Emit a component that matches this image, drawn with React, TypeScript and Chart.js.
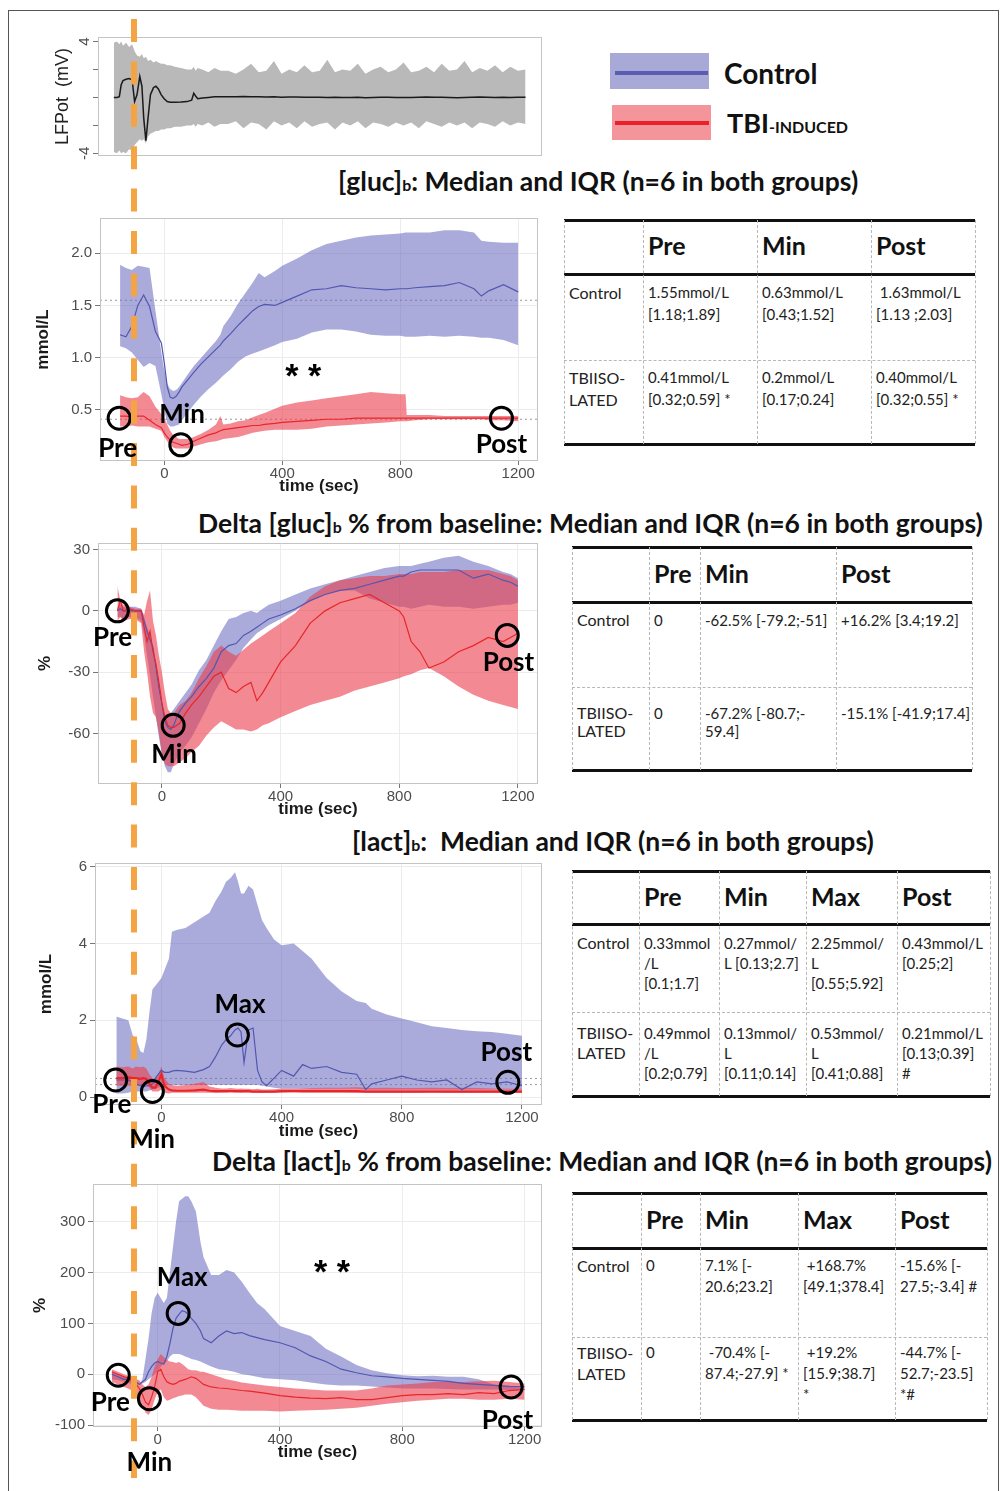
import React, { useEffect, useRef } from 'react';
import { Chart, registerables } from 'chart.js';

Chart.register(...registerables);

// ================= DATA =================
const X_TICKS = [0, 400, 800, 1200];

// ---- LFPot (mV) ----
const LF_T = [-150,-140,-132,-126,-120,-110,-100,-90,-82,-74,-65,-58,-52,-45,-38,-30,-20,-12,-4,5,15,25,35,50,70,90,105,112,118,125,140,160,180,200,
  225,250,275,300,325,350,375,400,425,450,475,500,525,550,575,600,625,650,675,700,725,750,775,800,825,850,875,900,925,950,975,1000,1025,1050,1075,1100,1125,1150,1175,1200];
const LF_MED = [0,0,0.05,0.9,1.2,1.3,1.35,1.25,-0.3,0.2,1.5,0.8,-1.5,-3.1,-1.5,0.2,0.7,0.8,0.6,0.2,-0.1,-0.3,-0.35,-0.35,-0.33,-0.3,-0.2,0.3,0.1,-0.1,-0.05,0,0.05,0.05,
  0.05,0.05,0.06,0.04,0.05,0.03,0.04,0.02,0.03,0.03,0.02,0.01,0.02,0,0.01,0,0,0.01,-0.02,0,0.01,0.02,0,-0.01,0,0.02,0.03,0.02,0.01,0,-0.02,0,0.02,0.03,0.01,0,0.02,0,0.01,0.02];
const LF_HI = [3.9,4.0,3.8,4.0,3.7,3.9,3.6,3.8,3.3,3.0,2.9,3.1,2.8,2.9,2.6,2.7,2.5,2.6,2.5,2.4,2.4,2.3,2.3,2.2,2.1,2.0,2.0,2.2,1.9,2.1,2.0,1.8,2.1,1.9,
  1.9,1.7,2.0,2.4,1.8,1.9,2.6,1.7,2.0,1.8,2.3,1.8,1.9,2.7,1.8,2.0,1.9,2.4,1.7,2.0,2.2,1.8,2.0,2.5,1.8,1.9,2.2,1.8,2.4,1.9,2.0,2.6,1.8,2.1,1.9,2.3,1.8,2.2,1.9,2.0];
const LF_LO = [-3.9,-4.0,-3.8,-4.0,-3.9,-4.0,-3.7,-3.8,-3.4,-3.2,-3.0,-3.1,-3.0,-3.3,-2.8,-2.6,-2.5,-2.4,-2.4,-2.3,-2.3,-2.2,-2.2,-2.1,-2.1,-2.0,-2.0,-1.9,-2.1,-1.9,-2.0,-1.8,-2.1,-1.9,
  -1.9,-1.7,-2.2,-1.8,-1.9,-2.3,-1.7,-2.0,-1.8,-2.2,-1.7,-2.1,-1.9,-1.8,-2.3,-1.8,-2.0,-1.7,-2.2,-1.8,-1.9,-2.1,-1.8,-2.0,-1.8,-2.2,-1.7,-1.9,-2.1,-1.8,-2.0,-1.8,-2.2,-1.8,-1.9,-2.1,-1.7,-2.0,-1.8,-1.9];
const LF_Y_TICKS = [-4, -2, 0, 2, 4];
const LF_Y_LABELS = [-4, 4];

// ---- [gluc]b (mmol/L) ----
const G_T = [-150,-130,-110,-90,-70,-50,-30,-10,0,10,20,30,40,50,60,80,100,125,150,175,190,200,225,250,275,300,320,340,375,400,450,500,550,600,650,700,750,800,818,822,850,900,950,1000,1050,1075,1100,1150,1200];
const GC_HI = [1.89,1.86,1.84,1.88,1.87,1.86,1.45,1.05,0.88,0.75,0.70,0.68,0.69,0.72,0.76,0.84,0.92,1.00,1.08,1.16,1.22,1.30,1.40,1.52,1.62,1.72,1.81,1.77,1.83,1.88,1.95,2.03,2.09,2.12,2.15,2.17,2.18,2.19,2.20,2.20,2.20,2.20,2.22,2.22,2.20,2.12,2.11,2.10,2.10];
const GC_LO = [1.11,1.09,1.05,0.98,0.91,0.95,0.92,0.65,0.50,0.37,0.34,0.34,0.35,0.36,0.40,0.48,0.55,0.63,0.70,0.76,0.80,0.83,0.89,0.96,1.01,1.04,1.06,1.08,1.12,1.15,1.18,1.24,1.27,1.27,1.25,1.22,1.21,1.21,1.20,1.20,1.20,1.21,1.20,1.21,1.20,1.19,1.19,1.17,1.12];
const GC_MED = [1.22,1.20,1.30,1.50,1.60,1.49,1.25,1.14,0.95,0.72,0.62,0.61,0.63,0.67,0.72,0.79,0.86,0.94,1.01,1.08,1.12,1.16,1.23,1.31,1.38,1.45,1.49,1.51,1.50,1.53,1.59,1.65,1.66,1.69,1.67,1.66,1.65,1.66,1.66,1.66,1.67,1.68,1.69,1.72,1.66,1.59,1.64,1.70,1.63];
const GT_HI = [0.64,0.62,0.61,0.62,0.67,0.63,0.53,0.46,0.42,0.36,0.30,0.26,0.24,0.22,0.22,0.22,0.24,0.27,0.31,0.36,0.44,0.36,0.37,0.39,0.40,0.43,0.45,0.47,0.51,0.54,0.57,0.59,0.61,0.63,0.65,0.67,0.66,0.65,0.65,0.45,0.45,0.45,0.44,0.44,0.44,0.44,0.44,0.44,0.44];
const GT_LO = [0.34,0.34,0.35,0.34,0.34,0.34,0.32,0.30,0.24,0.20,0.16,0.14,0.13,0.13,0.13,0.13,0.15,0.17,0.19,0.20,0.21,0.22,0.23,0.24,0.26,0.28,0.29,0.30,0.31,0.31,0.31,0.32,0.34,0.35,0.36,0.37,0.38,0.39,0.39,0.39,0.40,0.41,0.41,0.41,0.41,0.41,0.40,0.40,0.39];
const GT_MED = [0.44,0.44,0.43,0.44,0.44,0.40,0.36,0.33,0.28,0.24,0.21,0.19,0.18,0.17,0.16,0.17,0.20,0.23,0.26,0.28,0.30,0.31,0.32,0.33,0.34,0.35,0.35,0.36,0.37,0.38,0.39,0.40,0.41,0.41,0.42,0.42,0.42,0.42,0.42,0.42,0.42,0.42,0.42,0.42,0.42,0.42,0.42,0.42,0.42];
const G_Y_TICKS = [0.5, 1.0, 1.5, 2.0];
const G_REF = [1.55, 0.41];
const G_MARK_T = [-153, 56, 1143];
const G_MARK_V = [0.42, 0.165, 0.42];
const G_LAB = ['Pre', 'Min', 'Post', '* *'];
const G_LAB_T = [-158, 60, 1143, 471];
const G_LAB_V = [0.126, 0.452, 0.165, 0.864];

// ---- Delta [gluc]b % ----
const DG_T = [-150,-140,-130,-110,-90,-70,-60,-50,-40,-30,-20,-10,0,10,20,30,40,50,60,80,100,125,150,175,200,225,250,275,300,320,340,360,400,450,500,550,600,650,700,750,800,815,840,870,900,950,1000,1050,1100,1150,1175,1200];
const DGC_HI = [2,3,2,2,2,1,-3,-8,-12,-20,-30,-40,-48,-52,-52,-50,-48,-46,-44,-40,-36,-29,-24,-17,-10,-4,-3,-1,0,-1,1,3,5,8,11,13,15,17,19,21,22,22,22,23,24,26,27,24,22,19,18,16];
const DGC_LO = [-3,-3,-4,-3,-3,-5,-12,-22,-32,-42,-52,-62,-70,-76,-79,-79,-75,-72,-69,-66,-62,-55,-48,-40,-34,-29,-24,-18,-14,-11,-9,-7,-4,0,5,8,10,10,6,4,2,2,1,2,3,2,2,1,2,3,3,4];
const DGC_MED = [0,1,0,0,0,0,-5,-10,-14,-18,-28,-38,-46,-54,-57,-58,-56,-52,-49,-45,-42,-37,-33,-28,-20,-17,-16,-12,-10,-8,-6,-4,-2,1,5,8,10,11,13,15,17,17,19,20,20,20,20,16,18,15,14,12];
const DGT_HI = [12,5,3,2,1,1,-2,5,10,-5,-12,-22,-30,-40,-48,-50,-50,-48,-46,-44,-40,-33,-27,-20,-17,-20,-22,-19,-16,-14,-12,-10,-6,-1,7,12,15,16,17,17,18,18,18,19,19,19,20,20,20,18,17,15];
const DGT_LO = [-5,-3,-5,-4,-4,-6,-20,-30,-42,-50,-52,-60,-70,-75,-76,-76,-76,-75,-74,-72,-69,-66,-61,-57,-54,-56,-58,-58,-59,-58,-56,-55,-52,-49,-46,-44,-42,-39,-37,-35,-33,-32,-31,-29,-28,-32,-37,-41,-44,-46,-47,-48];
const DGT_MED = [0,5,0,1,0,0,-8,-15,-10,-20,-26,-35,-45,-52,-56,-57,-57,-56,-55,-50,-46,-42,-37,-32,-30,-38,-40,-37,-35,-44,-40,-35,-25,-17,-6,0,4,6,8,4,0,-3,-15,-20,-28,-25,-20,-17,-13,-15,-13,-11];
const DG_Y_TICKS = [-60, -30, 0, 30];
const DG_MARK_T = [-150, 38, 1164];
const DG_MARK_V = [0, -56, -12];
const DG_LAB = ['Pre', 'Min', 'Post'];
const DG_LAB_T = [-166, 41, 1168];
const DG_LAB_V = [-13.2, -70.5, -25.4];

// ---- [lact]b (mmol/L) ----
const L_T = [-150,-130,-110,-95,-85,-70,-60,-50,-40,-30,-20,-10,0,10,25,35,50,80,110,140,160,180,200,215,230,245,255,265,275,290,305,320,335,350,375,400,440,470,500,550,600,650,680,700,750,800,850,900,950,1000,1050,1100,1150,1200];
const LC_HI = [2.1,2.05,2.0,1.6,1.55,1.2,1.15,1.5,2.2,2.8,2.9,3.0,3.1,3.3,3.6,4.3,4.35,4.4,4.55,4.7,4.8,5.1,5.35,5.6,5.7,5.85,5.6,5.3,5.3,5.5,5.4,5.0,4.6,4.4,4.1,3.95,4.0,3.8,3.6,3.1,2.75,2.5,2.45,2.3,2.15,2.05,1.95,1.85,1.8,1.75,1.72,1.7,1.65,1.6];
const LC_LO = [0.1,0.1,0.12,0.15,0.15,0.15,0.15,0.15,0.18,0.2,0.22,0.25,0.28,0.3,0.32,0.32,0.32,0.32,0.32,0.32,0.32,0.32,0.32,0.32,0.32,0.32,0.32,0.32,0.32,0.32,0.32,0.32,0.3,0.28,0.25,0.22,0.22,0.22,0.22,0.22,0.22,0.22,0.2,0.2,0.2,0.2,0.2,0.2,0.2,0.2,0.2,0.2,0.2,0.2];
const LC_MED = [0.45,0.45,0.45,0.40,0.35,0.30,0.28,0.30,0.30,0.35,0.50,0.60,0.70,0.65,0.65,0.68,0.70,0.68,0.65,0.72,0.80,1.05,1.35,1.50,1.60,1.75,1.80,1.70,0.90,1.75,1.80,0.70,0.40,0.30,0.50,0.70,0.55,0.85,0.75,0.80,0.65,0.60,0.20,0.35,0.45,0.55,0.45,0.40,0.45,0.20,0.40,0.35,0.40,0.30];
const LT_HI = [0.8,0.78,0.8,0.75,0.8,0.78,0.8,0.75,0.6,0.5,0.45,0.6,0.8,0.5,0.35,0.32,0.30,0.32,0.35,0.40,0.28,0.25,0.23,0.23,0.24,0.23,0.22,0.23,0.22,0.22,0.21,0.22,0.2,0.2,0.21,0.22,0.22,0.23,0.24,0.25,0.25,0.26,0.25,0.24,0.25,0.24,0.24,0.25,0.24,0.25,0.24,0.23,0.22,0.22];
const LT_LO = [0.3,0.3,0.3,0.3,0.3,0.3,0.3,0.3,0.25,0.15,0.15,0.15,0.2,0.12,0.1,0.12,0.12,0.12,0.12,0.12,0.12,0.11,0.12,0.12,0.13,0.12,0.12,0.11,0.12,0.12,0.12,0.12,0.11,0.12,0.12,0.12,0.13,0.12,0.12,0.12,0.12,0.11,0.12,0.12,0.12,0.12,0.12,0.13,0.12,0.12,0.12,0.12,0.12,0.12];
const LT_MED = [0.5,0.5,0.52,0.5,0.5,0.48,0.5,0.48,0.35,0.25,0.25,0.4,0.6,0.3,0.2,0.18,0.17,0.17,0.18,0.2,0.17,0.16,0.16,0.16,0.16,0.16,0.16,0.16,0.16,0.16,0.15,0.15,0.15,0.15,0.15,0.16,0.16,0.16,0.16,0.16,0.16,0.16,0.15,0.15,0.15,0.15,0.15,0.15,0.15,0.15,0.15,0.15,0.15,0.15];
const L_Y_TICKS = [0, 2, 4, 6];
const L_REF = [0.49, 0.33];
const L_MARK_T = [-152, -30, 253, 1153];
const L_MARK_V = [0.45, 0.15, 1.62, 0.39];
const L_LAB = ['Pre', 'Min', 'Max', 'Post'];
const L_LAB_T = [-165, -31, 262, 1148];
const L_LAB_V = [-0.2, -1.11, 2.4, 1.15];

// ---- Delta [lact]b % ----
const DL_T = [-150,-130,-110,-90,-70,-60,-50,-40,-30,-20,-10,0,10,20,30,40,50,60,70,80,90,100,110,125,140,150,175,200,225,250,275,300,325,350,400,450,500,550,600,650,700,750,800,850,900,950,1000,1050,1100,1150,1200];
const DLC_HI = [5,0,-5,-5,-15,-20,-10,30,70,120,150,160,150,140,150,200,250,300,340,345,350,350,340,320,260,230,195,195,205,200,182,160,140,128,95,85,75,50,35,18,8,2,-2,-4,-3,-5,-5,-10,-20,-24,-28];
const DLC_LO = [-10,-12,-15,-18,-20,-20,-18,-15,-10,-5,0,5,15,20,25,35,40,40,40,38,35,33,30,28,25,22,15,10,8,5,0,-2,-5,-8,-10,-12,-16,-20,-22,-22,-24,-26,-28,-28,-28,-29,-30,-30,-30,-31,-32];
const DLC_MED = [0,-5,-10,-10,-15,-20,-15,-10,5,15,22,25,22,20,35,60,90,110,118,125,123,118,110,100,85,70,62,75,85,80,82,76,72,68,62,52,36,25,10,3,-3,-5,-8,-10,-12,-14,-18,-20,-22,-24,-25];
const DLT_HI = [10,5,0,-5,-10,-12,-20,-25,-20,-5,15,30,40,34,28,25,24,22,24,20,15,10,8,8,5,5,0,-5,-10,-13,-16,-18,-20,-22,-25,-28,-30,-32,-32,-32,-28,-22,-20,-18,-15,-15,-15,-14,-13,-15,-18];
const DLT_LO = [-15,-20,-25,-30,-40,-50,-60,-75,-80,-70,-50,-35,-30,-45,-52,-50,-47,-45,-43,-42,-40,-40,-40,-45,-55,-62,-68,-70,-70,-71,-72,-72,-72,-72,-73,-72,-71,-70,-68,-66,-62,-58,-55,-52,-50,-48,-48,-50,-50,-48,-50];
const DLT_MED = [5,0,-5,-10,-20,-28,-40,-55,-60,-45,-25,5,10,-5,-15,-18,-20,-18,-14,-12,-10,-8,-5,-8,-15,-20,-25,-27,-28,-30,-32,-33,-35,-37,-42,-45,-47,-48,-46,-50,-50,-46,-42,-40,-40,-38,-40,-36,-38,-32,-30];
const DL_Y_TICKS = [-100, 0, 100, 200, 300];
const DL_MARK_T = [-129, -27, 67, 1156];
const DL_MARK_V = [-2, -48, 119.5, -25];
const DL_LAB = ['Pre', 'Min', 'Max', 'Post', '* *'];
const DL_LAB_T = [-155, -27, 80, 1144, 570];
const DL_LAB_V = [-55, -173, 189, -90.5, 208.7];

// ---- Tables ----
const T1_HEAD = ['Pre', 'Min', 'Post'];
const T1_ROWS = [
  [['Control'], ['1.55mmol/L', '[1.18;1.89]'], ['0.63mmol/L', '[0.43;1.52]'], [' 1.63mmol/L', '[1.13 ;2.03]']],
  [['TBIISO-', 'LATED'], ['0.41mmol/L', '[0.32;0.59] *'], ['0.2mmol/L', '[0.17;0.24]'], ['0.40mmol/L', '[0.32;0.55] *']],
];
const T2_HEAD = ['Pre', 'Min', 'Post'];
const T2_ROWS = [
  [['Control'], ['0'], ['-62.5% [-79.2;-51]'], ['+16.2% [3.4;19.2]']],
  [['TBIISO-', 'LATED'], ['0'], ['-67.2% [-80.7;-', '59.4]'], ['-15.1% [-41.9;17.4]']],
];
const T3_HEAD = ['Pre', 'Min', 'Max', 'Post'];
const T3_ROWS = [
  [['Control'], ['0.33mmol', '/L', '[0.1;1.7]'], ['0.27mmol/', 'L [0.13;2.7]'], ['2.25mmol/', 'L', '[0.55;5.92]'], ['0.43mmol/L', '[0.25;2]']],
  [['TBIISO-', 'LATED'], ['0.49mmol', '/L', '[0.2;0.79]'], ['0.13mmol/', 'L', '[0.11;0.14]'], ['0.53mmol/', 'L', '[0.41;0.88]'], ['0.21mmol/L', '[0.13;0.39]', '#']],
];
const T4_HEAD = ['Pre', 'Min', 'Max', 'Post'];
const T4_ROWS = [
  [['Control'], ['0'], ['7.1% [-', '20.6;23.2]'], [' +168.7%', '[49.1;378.4]'], ['-15.6% [-', '27.5;-3.4] #']],
  [['TBIISO-', 'LATED'], ['0'], [' -70.4% [-', '87.4;-27.9] *'], [' +19.2%', '[15.9;38.7]', '*'], ['-44.7% [-', '52.7;-23.5]', '*#']],
];

// ================= STYLE =================
const AX_FONT = "'Liberation Sans', Arial, sans-serif";
const CAL = "Lato, 'Open Sans', sans-serif";
const BLUE_BAND = 'rgba(100,102,190,0.55)';
const RED_BAND = 'rgba(235,60,75,0.6)';
const BLUE_LINE = '#5357b0';
const RED_LINE = '#e8262a';
const NONE = 'rgba(0,0,0,0)';

const pts = (t: number[], v: number[]) => t.map((x, i) => ({ x, y: v[i] }));

// Draws the panel frame on the chart and the text annotations on an overlay canvas
function annotPlugin(p: any, overlay: HTMLCanvasElement | null) {
  return {
    id: 'annot',
    afterDatasetsDraw(chart: any) {
      const { ctx, chartArea: a, scales } = chart;
      ctx.save();
      ctx.strokeStyle = '#c4c4c4';
      ctx.lineWidth = 1;
      ctx.strokeRect(a.left + 0.5, a.top + 0.5, a.right - a.left - 1, a.bottom - a.top - 1);
      if (p.rotTicks) {
        ctx.font = `15px ${AX_FONT}`;
        ctx.fillStyle = '#4d4d4d';
        ctx.textAlign = 'center';
        ctx.textBaseline = 'middle';
        p.rotTicks.forEach((v: number) => {
          ctx.save();
          ctx.translate(a.left - 13, scales.y.getPixelForValue(v));
          ctx.rotate(-Math.PI / 2);
          ctx.fillText(String(v), 0, 0);
          ctx.restore();
        });
      }
      ctx.restore();
      if (overlay && p.labText) {
        const o = overlay.getContext('2d') as CanvasRenderingContext2D;
        o.clearRect(0, 0, overlay.width, overlay.height);
        o.fillStyle = '#000';
        o.textAlign = 'center';
        o.textBaseline = 'middle';
        p.labText.forEach((txt: string, i: number) => {
          const star = txt.indexOf('*') >= 0;
          o.font = star ? `bold 34px ${AX_FONT}` : `bold 26px ${CAL}`;
          o.fillText(txt, scales.x.getPixelForValue(p.labT[i]), scales.y.getPixelForValue(p.labV[i]) + (star ? 6 : 0));
        });
      }
    },
  };
}

function bandConfig(p: any, overlay: HTMLCanvasElement | null): any {
  const base = { pointRadius: 0, pointHitRadius: 0, tension: 0 };
  const ds: any[] = [
    { ...base, data: pts(p.t, p.cLo), borderColor: NONE, borderWidth: 0, backgroundColor: BLUE_BAND, fill: false, order: 7 },
    { ...base, data: pts(p.t, p.cHi), borderColor: NONE, borderWidth: 0, backgroundColor: BLUE_BAND, fill: '-1', order: 6 },
    { ...base, data: pts(p.t, p.rLo), borderColor: NONE, borderWidth: 0, backgroundColor: RED_BAND, fill: false, order: 5 },
    { ...base, data: pts(p.t, p.rHi), borderColor: NONE, borderWidth: 0, backgroundColor: RED_BAND, fill: '-1', order: 4 },
    { ...base, data: pts(p.t, p.cMed), borderColor: BLUE_LINE, borderWidth: 1.2, fill: false, order: 2 },
    { ...base, data: pts(p.t, p.rMed), borderColor: RED_LINE, borderWidth: p.redWidth || 1.2, fill: false, order: 1 },
  ];
  (p.refs || []).forEach((v: number) =>
    ds.push({ ...base, data: [{ x: p.xMin, y: v }, { x: p.xMax, y: v }], borderColor: '#9a9a9a', borderDash: [2, 3], borderWidth: 1, fill: false, order: 8 })
  );
  ds.push({
    data: pts(p.markT, p.markV), showLine: false, pointRadius: 11, pointBorderWidth: 3,
    pointBorderColor: '#000', pointBackgroundColor: NONE, borderColor: NONE, order: 0, clip: false,
  });
  const tickFont = { family: AX_FONT, size: 15 };
  const titleFont = { family: AX_FONT, size: 17, weight: 'bold' };
  return {
    type: 'line',
    data: { datasets: ds },
    options: {
      animation: false, responsive: false, maintainAspectRatio: false, events: [],
      layout: { padding: { left: 0, right: p.padRight, top: p.padTop, bottom: p.padBottom } },
      plugins: { legend: { display: false }, tooltip: { enabled: false } },
      scales: {
        x: {
          type: 'linear', min: p.xMin, max: p.xMax,
          afterBuildTicks: (s: any) => { s.ticks = X_TICKS.map((value) => ({ value })); },
          afterFit: (s: any) => { s.height = p.xH; },
          grid: { color: '#ececec', tickColor: '#777', tickLength: 4, drawTicks: true },
          border: { display: false },
          ticks: { font: tickFont, color: '#4d4d4d', padding: 0, maxRotation: 0, autoSkip: false, callback: (v: number) => String(v) },
          title: { display: true, text: 'time (sec)', font: titleFont, color: '#1a1a1a', padding: { top: 0, bottom: 0 } },
        },
        y: {
          type: 'linear', min: p.yMin, max: p.yMax,
          afterBuildTicks: (s: any) => { s.ticks = p.yTicks.map((value: number) => ({ value })); },
          afterFit: (s: any) => { s.width = p.yW; },
          grid: { color: '#ececec', tickColor: '#777', tickLength: 5, drawTicks: true },
          border: { display: false },
          ticks: { font: tickFont, color: '#4d4d4d', padding: 3, callback: (v: number) => (p.yDec ? v.toFixed(p.yDec) : String(v)) },
          title: { display: true, text: p.yTitle, font: titleFont, color: '#1a1a1a', padding: { top: 0, bottom: 0 } },
        },
      },
    },
    plugins: [annotPlugin(p, overlay)],
  };
}

function lfConfig(p: any): any {
  const base = { pointRadius: 0, pointHitRadius: 0, tension: 0 };
  return {
    type: 'line',
    data: {
      datasets: [
        { ...base, data: pts(LF_T, LF_LO), borderColor: NONE, borderWidth: 0, backgroundColor: '#b9b9b9', fill: false, order: 3 },
        { ...base, data: pts(LF_T, LF_HI), borderColor: NONE, borderWidth: 0, backgroundColor: '#b9b9b9', fill: '-1', order: 2 },
        { ...base, data: pts(LF_T, LF_MED), borderColor: '#1a1a1a', borderWidth: 1.5, fill: false, order: 1 },
      ],
    },
    options: {
      animation: false, responsive: false, maintainAspectRatio: false, events: [],
      layout: { padding: { left: 0, right: p.padRight, top: p.padTop, bottom: p.padBottom } },
      plugins: { legend: { display: false }, tooltip: { enabled: false } },
      scales: {
        x: { type: 'linear', display: false, min: p.xMin, max: p.xMax },
        y: {
          type: 'linear', min: p.yMin, max: p.yMax,
          afterBuildTicks: (s: any) => { s.ticks = LF_Y_TICKS.map((value) => ({ value })); },
          afterFit: (s: any) => { s.width = p.yW; },
          grid: { color: NONE, drawOnChartArea: false, tickColor: '#777', tickLength: 5, drawTicks: true },
          border: { display: false },
          ticks: { display: false },
          title: { display: true, text: 'LFPot  (mV)', font: { family: AX_FONT, size: 18 }, color: '#222', padding: { top: 0, bottom: 0 } },
        },
      },
    },
    plugins: [annotPlugin({ rotTicks: LF_Y_LABELS }, null)],
  };
}

function ChartCanvas({ cfg, build }: { cfg: any; build: (p: any, o: HTMLCanvasElement | null) => any }) {
  const ref = useRef<HTMLCanvasElement>(null);
  const ovRef = useRef<HTMLCanvasElement>(null);
  useEffect(() => {
    const chart = new Chart(ref.current as HTMLCanvasElement, build(cfg, ovRef.current));
    return () => chart.destroy();
  }, []);
  const st: any = { position: 'absolute', left: cfg.left, top: cfg.top, width: cfg.w, height: cfg.h, pointerEvents: 'none' };
  return (
    <>
      <canvas ref={ref} width={cfg.w} height={cfg.h} style={{ ...st, zIndex: 1 }} />
      <canvas ref={ovRef} width={cfg.w} height={cfg.h} style={{ ...st, zIndex: 3 }} />
    </>
  );
}

const LF_PANEL = { left: 52, top: 20, w: 496, h: 140, padTop: 17, padRight: 6, padBottom: 4, yW: 46, xMin: -202, xMax: 1254, yMin: -4.19, yMax: 4.32 };

const PANELS = [
  { left: 33, top: 200, w: 519, h: 297, padTop: 18, padRight: 10, padBottom: 0, yW: 67, xH: 36,
    xMin: -218, xMax: 1267, yMin: 0.01, yMax: 2.338, yTicks: G_Y_TICKS, yDec: 1, yTitle: 'mmol/L',
    t: G_T, cLo: GC_LO, cHi: GC_HI, cMed: GC_MED, rLo: GT_LO, rHi: GT_HI, rMed: GT_MED, refs: G_REF,
    markT: G_MARK_T, markV: G_MARK_V, labText: G_LAB, labT: G_LAB_T, labV: G_LAB_V },
  { left: 35, top: 525, w: 517, h: 295, padTop: 18, padRight: 10, padBottom: 0, yW: 63, xH: 36,
    xMin: -215.4, xMax: 1267.6, yMin: -84.7, yMax: 33.2, yTicks: DG_Y_TICKS, yDec: 0, yTitle: '%',
    t: DG_T, cLo: DGC_LO, cHi: DGC_HI, cMed: DGC_MED, rLo: DGT_LO, rHi: DGT_HI, rMed: DGT_MED, refs: [],
    markT: DG_MARK_T, markV: DG_MARK_V, labText: DG_LAB, labT: DG_LAB_T, labV: DG_LAB_V },
  { left: 36, top: 845, w: 520, h: 313, padTop: 18, padRight: 8, padBottom: 16, yW: 59, xH: 37,
    xMin: -221, xMax: 1266.7, yMin: -0.2, yMax: 6.09, yTicks: L_Y_TICKS, yDec: 0, yTitle: 'mmol/L', redWidth: 2.2,
    t: L_T, cLo: LC_LO, cHi: LC_HI, cMed: LC_MED, rLo: LT_LO, rHi: LT_HI, rMed: LT_MED, refs: L_REF,
    markT: L_MARK_T, markV: L_MARK_V, labText: L_LAB, labT: L_LAB_T, labV: L_LAB_V },
  { left: 30, top: 1166, w: 526, h: 313, padTop: 18, padRight: 8, padBottom: 16, yW: 63, xH: 36,
    xMin: -211.6, xMax: 1257, yMin: -103.7, yMax: 374, yTicks: DL_Y_TICKS, yDec: 0, yTitle: '%',
    t: DL_T, cLo: DLC_LO, cHi: DLC_HI, cMed: DLC_MED, rLo: DLT_LO, rHi: DLT_HI, rMed: DLT_MED, refs: [],
    markT: DL_MARK_T, markV: DL_MARK_V, labText: DL_LAB, labT: DL_LAB_T, labV: DL_LAB_V },
];

const TABLES = [
  { head: T1_HEAD, rows: T1_ROWS, left: 564, right: 975, cols: [643, 757, 871], top: 220, mid: 274, div: 360, bottom: 444, headY: 245, rowY: [293, 378], lh: 21.7 },
  { head: T2_HEAD, rows: T2_ROWS, left: 572, right: 972, cols: [649, 700, 836], top: 547, mid: 602, div: 687, bottom: 770, headY: 573, rowY: [620, 713], lh: 18.5 },
  { head: T3_HEAD, rows: T3_ROWS, left: 572, right: 990, cols: [639, 719, 806, 897], top: 871, mid: 924, div: 1012, bottom: 1096, headY: 896, rowY: [943, 1033], lh: 20.3 },
  { head: T4_HEAD, rows: T4_ROWS, left: 572, right: 987, cols: [641, 700, 798, 895], top: 1193, mid: 1248, div: 1337, bottom: 1420, headY: 1219, rowY: [1265, 1352], lh: 21 },
];

function DataTable({ s }: { s: any }) {
  const xs = [s.left, ...s.cols, s.right];
  const dash = '1px dashed #b8b8b8';
  const els: any[] = [];
  [s.top, s.mid, s.bottom].forEach((y: number, i: number) =>
    els.push(<div key={'k' + i} style={{ position: 'absolute', left: s.left, top: y - 1.5, width: s.right - s.left, height: 3, background: '#111' }} />));
  els.push(<div key="d" style={{ position: 'absolute', left: s.left, top: s.div, width: s.right - s.left, height: 0, borderTop: dash }} />);
  xs.forEach((x: number, i: number) =>
    els.push(<div key={'v' + i} style={{ position: 'absolute', left: x, top: s.top, width: 0, height: s.bottom - s.top, borderLeft: dash }} />));
  s.head.forEach((h: string, i: number) =>
    els.push(<div key={'h' + i} style={{ position: 'absolute', left: xs[i + 1] + 5, top: s.headY - 15, fontSize: 25, fontWeight: 700, lineHeight: '30px', color: '#111' }}>{h}</div>));
  s.rows.forEach((row: string[][], r: number) =>
    row.forEach((cell: string[], c: number) =>
      els.push(
        <div key={'c' + r + '_' + c} style={{ position: 'absolute', left: xs[c] + 5, top: s.rowY[r] - s.lh / 2, fontSize: c === 0 ? 16 : 15, lineHeight: s.lh + 'px', whiteSpace: 'pre', color: '#222' }}>
          {cell.map((ln, k) => <div key={k}>{ln}</div>)}
        </div>
      )));
  return <>{els}</>;
}

function Title({ left, cy, pre, post }: { left: number; cy: number; pre: string; post: string }) {
  return (
    <div style={{ position: 'absolute', left, top: cy - 16, fontSize: 26.5, lineHeight: '32px', fontWeight: 700, whiteSpace: 'pre', color: '#111' }}>
      {pre}<span style={{ fontSize: '0.6em' }}>b</span>{post}
    </div>
  );
}

export default function App() {
  return (
    <div style={{ position: 'absolute', left: 0, top: 0, width: 1004, height: 1491, background: '#fff', overflow: 'hidden', fontFamily: CAL }}>
      <div style={{ position: 'absolute', left: 8, top: 10, width: 989, height: 1500, border: '1px solid #555' }} />
      <ChartCanvas cfg={LF_PANEL} build={lfConfig} />
      {PANELS.map((p, i) => <ChartCanvas key={i} cfg={p} build={bandConfig} />)}

      {/* legend */}
      <div style={{ position: 'absolute', left: 610, top: 53, width: 99, height: 36, background: '#a9a9d8' }} />
      <div style={{ position: 'absolute', left: 615, top: 71, width: 93, height: 3.5, background: '#5a5db2' }} />
      <div style={{ position: 'absolute', left: 612, top: 105, width: 99, height: 35, background: '#f3959a' }} />
      <div style={{ position: 'absolute', left: 615, top: 121, width: 94, height: 3.5, background: '#e82228' }} />
      <div style={{ position: 'absolute', left: 724, top: 56, fontSize: 28, lineHeight: '34px', fontWeight: 700, color: '#111' }}>Control</div>
      <div style={{ position: 'absolute', left: 727, top: 106, fontSize: 27, lineHeight: '34px', fontWeight: 700, color: '#111', whiteSpace: 'pre' }}>
        TBI<span style={{ fontSize: 16 }}>-INDUCED</span>
      </div>

      <Title left={338} cy={181} pre="[gluc]" post=": Median and IQR (n=6 in both groups)" />
      <Title left={198} cy={523} pre="Delta [gluc]" post=" % from baseline: Median and IQR (n=6 in both groups)" />
      <Title left={352} cy={841} pre="[lact]" post=":  Median and IQR (n=6 in both groups)" />
      <Title left={212} cy={1161} pre="Delta [lact]" post=" % from baseline: Median and IQR (n=6 in both groups)" />

      {TABLES.map((s, i) => <DataTable key={i} s={s} />)}

      <svg style={{ position: 'absolute', left: 0, top: 0, zIndex: 2, pointerEvents: 'none' }} width={1004} height={1491}>
        <line x1={134} y1={19} x2={134} y2={1478} stroke="#f5a443" strokeWidth={6} strokeDasharray="23 19.4" />
      </svg>
    </div>
  );
}
